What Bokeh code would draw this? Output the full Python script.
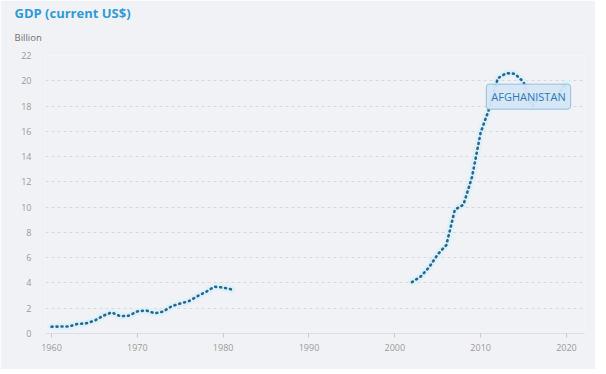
from bokeh.plotting import figure
from bokeh.models import Label, FixedTicker, Range1d, Title
from bokeh.embed import file_html
from bokeh.resources import INLINE

# ---- data (GDP, current US$, billions) ----
years_a = list(range(1960, 1982))
gdp_a = [0.54, 0.55, 0.55, 0.75, 0.80, 1.01, 1.40, 1.67, 1.37, 1.41, 1.75,
         1.83, 1.60, 1.73, 2.16, 2.37, 2.56, 2.95, 3.30, 3.70, 3.64, 3.48]
years_b = list(range(2002, 2021))
gdp_b = [4.07, 4.50, 5.25, 6.26, 7.00, 9.80, 10.20, 12.40, 15.90, 17.80,
         20.20, 20.60, 20.55, 19.90, 18.00, 18.90, 18.40, 18.90, 19.85]
country = "AFGHANISTAN"
title_text = "GDP (current US$)"
unit_text = "Billion"
x_ticks = [1960, 1970, 1980, 1990, 2000, 2010, 2020]
y_ticks = [0, 2, 4, 6, 8, 10, 12, 14, 16, 18, 20, 22]

BG = "#f1f2f6"
FONT = "Open Sans"
W, H = 595, 369
FL, FR, FT, FB = 45, 584, 55, 333   # frame edges in canvas pixels

p = figure(width=W, height=H, output_backend="svg", toolbar_location=None,
           x_range=Range1d(1959.3, 2022.1), y_range=Range1d(0, 22),
           min_border_left=FL, min_border_right=W - FR, min_border_top=FT,
           min_border_bottom=H - FB)
p.title.visible = False
p.background_fill_color = BG
p.border_fill_color = BG
p.outline_line_color = None

# grid
p.xgrid.grid_line_color = None
p.ygrid.grid_line_color = "#d6d8dc"
p.ygrid.grid_line_dash = "3 3"
p.ygrid.ticker = FixedTicker(ticks=y_ticks[1:])

# x axis
p.xaxis.ticker = FixedTicker(ticks=x_ticks)
p.xaxis.axis_line_color = "#dcdee3"
p.xaxis.major_tick_line_color = "#c8cacf"
p.xaxis.major_tick_in = 0
p.xaxis.major_tick_out = 4
p.xaxis.minor_tick_line_color = None
p.xaxis.major_label_text_color = "#9a9a9a"
p.xaxis.major_label_text_font = FONT
p.xaxis.major_label_text_font_size = "9px"
p.xaxis.major_label_standoff = 6

# y axis
p.yaxis.ticker = FixedTicker(ticks=y_ticks)
p.yaxis.axis_line_color = None
p.yaxis.major_tick_line_color = None
p.yaxis.minor_tick_line_color = None
p.yaxis.major_label_text_color = "#9a9a9a"
p.yaxis.major_label_text_font = FONT
p.yaxis.major_label_text_font_size = "9px"
p.yaxis.major_label_standoff = 8

# lines: halo + dotted line
for xs, ys in ((years_a, gdp_a), (years_b, gdp_b)):
    p.line(xs, ys, line_color="#ddf1fa", line_width=7, line_cap="round",
           line_join="round")
    p.line(xs, ys, line_color="#28668e", line_width=2.6, line_dash="1 4",
           line_cap="round", line_join="round")

# country label anchored at last point
p.add_layout(Label(x=years_b[-1], y=gdp_b[-1], x_offset=-38, y_offset=-14,
                   text=country, text_align="center", text_baseline="middle",
                   text_font=FONT, text_font_size="11px", text_color="#2f78b7",
                   background_fill_color="#d4e6f5", background_fill_alpha=0.95,
                   border_line_color="#93bde0", border_line_width=1,
                   padding=5, border_radius=3))

# title and unit as stacked titles above the frame
p.add_layout(Title(text=unit_text, align="left", offset=14 - FL, standoff=23,
                   text_font=FONT, text_font_size="9.5px",
                   text_font_style="normal", text_color="#6e6e6e"), "above")
p.add_layout(Title(text=title_text, align="left", offset=14 - FL, standoff=-9,
                   text_font=FONT, text_font_size="13px",
                   text_font_style="bold", text_color="#2e9bd8"), "above")

open("out.html", "w").write(file_html(p, INLINE))
